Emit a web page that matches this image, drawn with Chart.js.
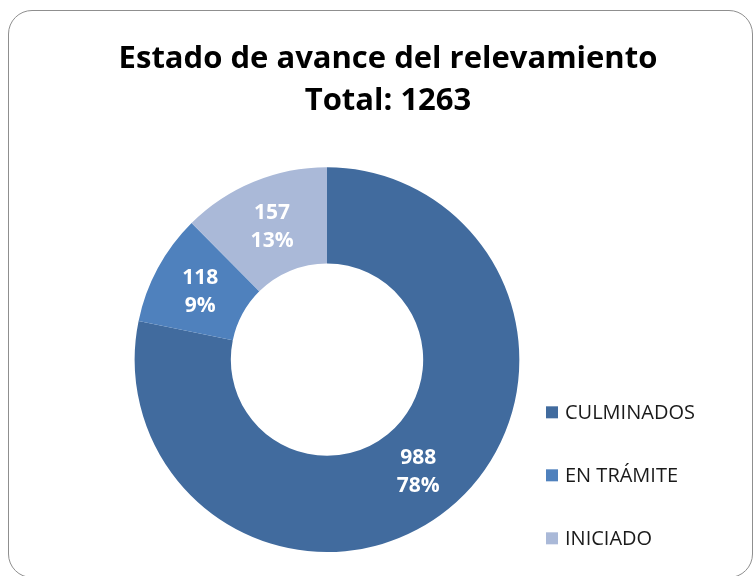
<!DOCTYPE html>
<html>
<head>
<meta charset="utf-8">
<script src="https://cdn.jsdelivr.net/npm/chart.js@4/dist/chart.umd.min.js"></script>
<style>
  body { margin: 0; background: #fff; }
  #marco {
    position: absolute; left: 8px; top: 10px; width: 743px; height: 566px;
    border: 1px solid #8f8f8f; border-radius: 24px;
  }
  #grafico { position: absolute; left: 0; top: 0; }
</style>
</head>
<body>
<div id="marco"></div>
<canvas id="grafico" width="755" height="576"></canvas>
<script>
const categorias = ['CULMINADOS', 'EN TRÁMITE', 'INICIADO'];
const valores = [988, 118, 157];
const porcentajes = ['78%', '9%', '13%'];
const colores = ['#416B9E', '#4F81BD', '#AAB9D8'];
const titulo = ['Estado de avance del relevamiento', 'Total: 1263'];

const fuente = 'Open Sans';

// caja a la derecha que reserva lugar y dibuja la leyenda
const leyendaLateral = {
    id: 'leyendaLateral',
    beforeInit(chart) {
        const caja = {
            position: 'right',
            weight: 1000,
            fullSize: false,
            options: {},
            left: 0, top: 0, right: 0, bottom: 0, width: 0, height: 0,
            isHorizontal() { return false; },
            update(maxWidth, maxHeight) {
                this.width = 122;
                this.height = maxHeight;
            },
            draw() {
                const ctx = chart.ctx;
                const ds = chart.data.datasets[0];
                ctx.save();
                ctx.font = '20px "' + fuente + '"';
                ctx.textBaseline = 'middle';
                ctx.textAlign = 'left';
                chart.data.labels.forEach((etq, i) => {
                    const y = this.top + 245 + i * 63;
                    ctx.fillStyle = ds.backgroundColor[i];
                    ctx.fillRect(this.left + 1, y - 6, 12, 12);
                    ctx.fillStyle = '#1a1a1a';
                    ctx.fillText(etq, this.left + 20, y + 1);
                });
                ctx.restore();
            }
        };
        Chart.layouts.addBox(chart, caja);
    }
};

// etiquetas blancas sobre cada porción
const etiquetas = {
    id: 'etiquetas',
    afterDatasetsDraw(chart) {
        const ctx = chart.ctx;
        const meta = chart.getDatasetMeta(0);
        ctx.save();
        ctx.font = 'bold 21px "' + fuente + '"';
        ctx.fillStyle = '#fff';
        ctx.textAlign = 'center';
        ctx.textBaseline = 'middle';
        meta.data.forEach((arco, i) => {
            const p = arco.tooltipPosition();
            ctx.fillText(String(valores[i]), p.x, p.y - 13);
            ctx.fillText(porcentajes[i], p.x, p.y + 15);
        });
        ctx.restore();
    }
};

const ctx = document.getElementById('grafico').getContext('2d');
const myChart = new Chart(ctx, {
    type: 'doughnut',
    data: {
        labels: categorias,
        datasets: [{
            data: valores,
            backgroundColor: colores,
            borderWidth: 0
        }]
    },
    options: {
        responsive: false,
        animation: false,
        cutout: '50%',
        layout: {
            padding: { left: 109, right: 88, top: 0, bottom: 24 }
        },
        plugins: {
            legend: { display: false },
            tooltip: { enabled: false },
            title: {
                display: true,
                text: titulo,
                color: '#000',
                font: { family: fuente, size: 31, weight: 'bold', lineHeight: 1.36 },
                padding: { top: 38, bottom: 45 }
            }
        }
    },
    plugins: [leyendaLateral, etiquetas]
});
</script>
</body>
</html>
